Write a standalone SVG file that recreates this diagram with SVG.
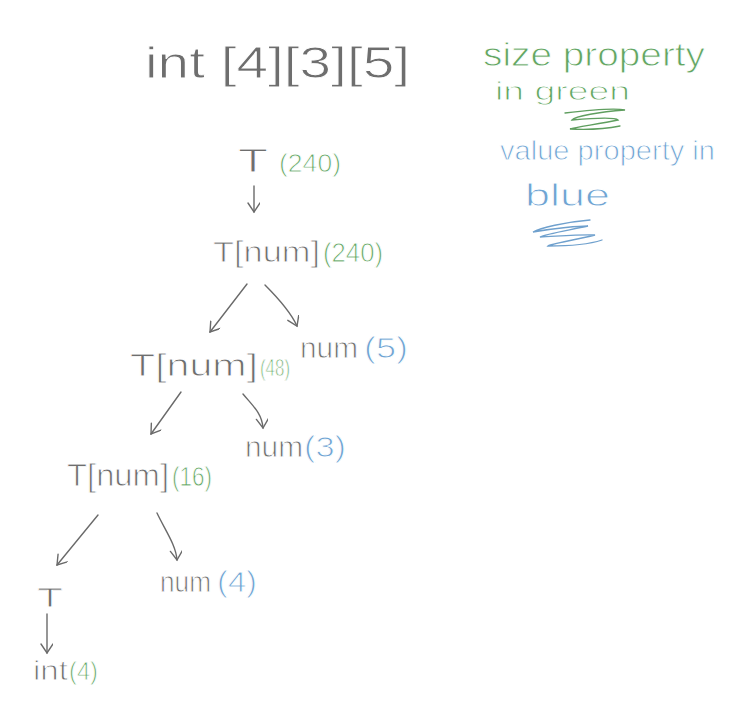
<svg xmlns="http://www.w3.org/2000/svg" width="739" height="708" viewBox="0 0 739 708">
<defs>
<style>
text{font-family:"Liberation Sans","DejaVu Sans",sans-serif;font-weight:normal;stroke:#ffffff;stroke-width:0.9}
.k{fill:#6e6e6e}
.g{fill:#63a663}
.b{fill:#6fa4d3}
.c{fill:none;stroke:#6a6a6a;stroke-width:1.4;stroke-linecap:round;stroke-linejoin:round}
.sg{fill:none;stroke:#5f9e5f;stroke-width:1.3;stroke-linecap:round}
.sb{fill:none;stroke:#6fa0cd;stroke-width:1.3;stroke-linecap:round}
</style>
<marker id="ah" markerWidth="14" markerHeight="14" refX="10" refY="6" orient="auto" markerUnits="userSpaceOnUse">
<polyline points="1,0 10,6 1,12" fill="none" stroke="#6a6a6a" stroke-width="1.4" stroke-linecap="round"/>
</marker>
</defs>
<rect width="739" height="708" fill="#ffffff"/>
<g id="title"><text class="k" x="145" y="78" font-size="44" textLength="265" lengthAdjust="spacingAndGlyphs">int [4][3][5]</text></g>
<g id="legend">
<text class="g" x="483" y="66" font-size="34" textLength="222" lengthAdjust="spacingAndGlyphs">size property</text>
<text class="g" x="495" y="100" font-size="26" textLength="135" lengthAdjust="spacingAndGlyphs">in green</text>
<path class="sg" d="M565,113 C590,110 615,108 625,110 C600,112 575,116 572,120 C595,118 615,117 618,120 C600,124 575,127 570,129 C590,130 610,128 620,126"/>
<text class="b" x="500" y="160" font-size="28" textLength="215" lengthAdjust="spacingAndGlyphs">value property in</text>
<text class="b" x="525" y="206" font-size="32" textLength="85" lengthAdjust="spacingAndGlyphs">blue</text>
<path class="sb" d="M590,220 C565,222 540,228 533,232 C555,228 580,226 588,226 C570,230 545,234 540,237 C560,236 585,234 595,235 C575,240 550,244 548,246 C570,246 590,244 602,240"/>
</g>
<g id="n1"><text x="238" y="172" font-size="34"><tspan class="k" textLength="30" lengthAdjust="spacingAndGlyphs">T</tspan><tspan class="g" x="279" font-size="26" textLength="62" lengthAdjust="spacingAndGlyphs">(240)</tspan></text></g>
<g id="n2"><text x="213" y="262" font-size="30"><tspan class="k" textLength="107" lengthAdjust="spacingAndGlyphs">T[num]</tspan><tspan class="g" x="323" font-size="28" textLength="60" lengthAdjust="spacingAndGlyphs">(240)</tspan></text></g>
<g id="n3"><text x="130" y="376" font-size="32"><tspan class="k" textLength="128" lengthAdjust="spacingAndGlyphs">T[num]</tspan><tspan class="g" x="260" font-size="24" textLength="30" lengthAdjust="spacingAndGlyphs">(48)</tspan></text></g>
<g id="n4"><text x="300" y="358" font-size="30"><tspan class="k" textLength="58" lengthAdjust="spacingAndGlyphs">num</tspan><tspan class="b" x="364" textLength="44" lengthAdjust="spacingAndGlyphs">(5)</tspan></text></g>
<g id="n5"><text x="67" y="486" font-size="32"><tspan class="k" textLength="102" lengthAdjust="spacingAndGlyphs">T[num]</tspan><tspan class="g" x="172" font-size="28" textLength="40" lengthAdjust="spacingAndGlyphs">(16)</tspan></text></g>
<g id="n6"><text x="245" y="457" font-size="30"><tspan class="k" textLength="58" lengthAdjust="spacingAndGlyphs">num</tspan><tspan class="b" x="304" textLength="42" lengthAdjust="spacingAndGlyphs">(3)</tspan></text></g>
<g id="n7"><text class="k" x="37" y="607" font-size="28" textLength="26" lengthAdjust="spacingAndGlyphs">T</text></g>
<g id="n8"><text x="160" y="592" font-size="30"><tspan class="k" textLength="51" lengthAdjust="spacingAndGlyphs">num</tspan><tspan class="b" x="217" textLength="40" lengthAdjust="spacingAndGlyphs">(4)</tspan></text></g>
<g id="n9"><text x="33" y="680" font-size="28"><tspan class="k" textLength="35" lengthAdjust="spacingAndGlyphs">int</tspan><tspan class="g" x="69" font-size="26" textLength="29" lengthAdjust="spacingAndGlyphs">(4)</tspan></text></g>
<g id="connectors">
<path class="c" d="M254,186 L254,212" marker-end="url(#ah)"/>
<path class="c" d="M247,284 L210,332" marker-end="url(#ah)"/>
<path class="c" d="M265,285 C280,300 292,315 297,326" marker-end="url(#ah)"/>
<path class="c" d="M181,392 L151,434" marker-end="url(#ah)"/>
<path class="c" d="M243,394 C252,405 262,413 263,428" marker-end="url(#ah)"/>
<path class="c" d="M98,515 L57,565" marker-end="url(#ah)"/>
<path class="c" d="M157,513 C165,530 176,545 177,560" marker-end="url(#ah)"/>
<path class="c" d="M47,614 L47,653" marker-end="url(#ah)"/>
</g>
</svg>
